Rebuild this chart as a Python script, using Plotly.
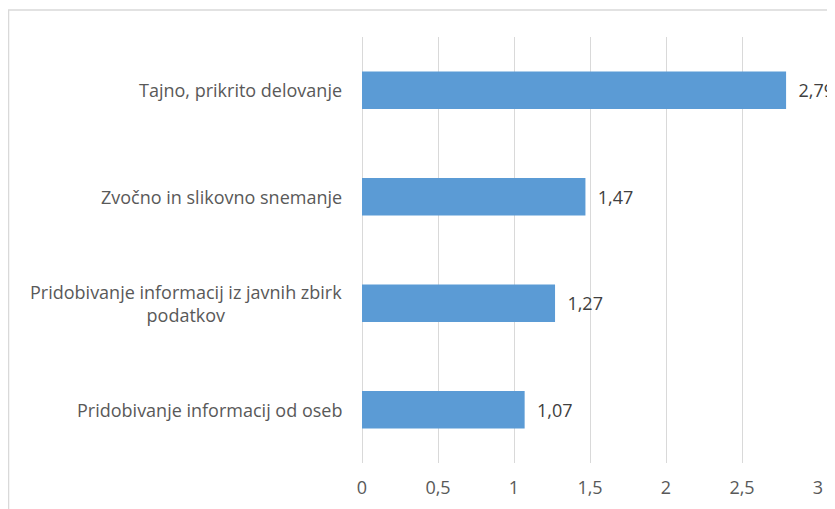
import plotly.graph_objects as go

categories = [
    "Tajno, prikrito delovanje",
    "Zvočno in slikovno snemanje",
    "Pridobivanje informacij iz javnih zbirk<br>podatkov",
    "Pridobivanje informacij od oseb",
]
values = [2.79, 1.47, 1.27, 1.07]
x_ticks = [0, 0.5, 1, 1.5, 2, 2.5, 3]

FONT = "Open Sans"
TXT = "#595959"
FS = 18

fig = go.Figure(
    go.Bar(
        y=categories,
        x=values,
        orientation="h",
        marker=dict(color="#5B9BD5", line=dict(width=0)),
        width=0.35,
        texttemplate="\u00a0\u00a0%{x:.2f}",
        textposition="outside",
        textfont=dict(family=FONT, size=FS, color="#404040"),
        cliponaxis=False,
    )
)

annotations = [
    dict(
        x=0, y=c, xref="x", yref="y", text=c, showarrow=False,
        xanchor="right", align="center", xshift=-18,
        font=dict(family=FONT, size=FS, color=TXT),
    )
    for c in categories
]

fig.update_layout(
    width=835, height=509,
    margin=dict(l=354, r=25, t=29, b=54),
    paper_bgcolor="white", plot_bgcolor="white",
    separators=",.",
    showlegend=False,
    font=dict(family=FONT, size=FS, color=TXT),
    annotations=annotations,
    shapes=[
        dict(type="rect", xref="paper", yref="paper",
             x0=-0.7752, x1=1.2, y0=-0.3, y1=1.0634,
             line=dict(color="#d9d9d9", width=1.5), layer="below"),
    ],
    xaxis=dict(
        range=[0, 3], tickvals=x_ticks,
        showgrid=True, gridcolor="#d9d9d9", gridwidth=1,
        zeroline=True, zerolinecolor="#d9d9d9", zerolinewidth=1,
        showline=False, ticks="", ticklabelstandoff=12,
        tickfont=dict(family=FONT, size=FS, color=TXT),
        fixedrange=True,
    ),
    yaxis=dict(
        categoryorder="array", categoryarray=categories[::-1],
        showticklabels=False, showgrid=False, ticks="",
        showline=False, zeroline=False,
        range=[-0.5, 3.5], fixedrange=True,
    ),
)

fig.write_html("out.html")
